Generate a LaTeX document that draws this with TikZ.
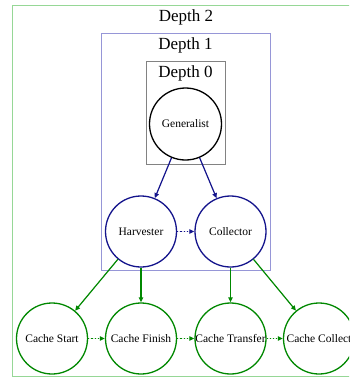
\documentclass[tikz,border=0pt]{standalone}
\usepackage{fontspec}
\setmainfont{Liberation Serif}
\usetikzlibrary{arrows.meta}
\definecolor{nblue}{RGB}{20,20,140}
\definecolor{ngreen}{RGB}{0,136,0}
\definecolor{cgreen}{RGB}{150,215,150}
\definecolor{cblue}{RGB}{150,150,215}
\definecolor{cgray}{RGB}{130,130,130}
\tikzset{
  nd/.style={circle, draw, line width=1.3pt, minimum size=71pt, inner sep=0pt, font=\fontsize{11.5}{13}\selectfont},
  bnode/.style={nd, draw=nblue},
  gnode/.style={nd, draw=ngreen},
  knode/.style={nd, draw=black, minimum size=72pt},
  clab/.style={font=\fontsize{17}{20}\selectfont, inner sep=0pt},
  tip/.style={-{Triangle[length=5pt,width=4.5pt]}},
  bedge/.style={tip, draw=nblue, fill=nblue, line width=1.2pt},
  gedge/.style={tip, draw=ngreen, fill=ngreen, line width=1.2pt},
  bdot/.style={bedge, dotted},
  gdot/.style={gedge, dotted},
}
\begin{document}
\begin{tikzpicture}[x=1pt,y=-1pt]
\useasboundingbox (0,0) rectangle (349,378);
\clip (0,0) rectangle (349,378);
\fill[white] (0,0) rectangle (349,378);
% clusters
\draw[cgreen, line width=1pt] (12.5,5.5) rectangle (400,376.8);
\node[clab] (l2) at (186,17) {Depth 2};
\draw[cblue, line width=1pt] (101.5,33.5) rectangle (270,270.5);
\node[clab] (l1) at (185.5,45) {Depth 1};
\draw[cgray, line width=1pt] (146.5,61) rectangle (225.5,164);
\node[clab] (l0) at (185.5,73) {Depth 0};
% nodes
\node[knode] (gen) at (185.5,124) {Generalist};
\node[bnode] (harv) at (141,231.5) {Harvester};
\node[bnode] (coll) at (230.5,231.5) {Collector};
\node[gnode] (cs) at (52,338.5) {Cache Start};
\node[gnode] (cf) at (141,338.5) {Cache Finish};
\node[gnode] (ct) at (230.5,338.5) {Cache Transfer};
\node[gnode] (cc) at (319,338.5) {Cache Collect};
% edges
\draw[bedge] (gen) -- (harv);
\draw[bedge] (gen) -- (coll);
\draw[bdot] (harv) -- (coll);
\draw[gedge] (harv) -- (cs);
\draw[gedge] (harv) -- (cf);
\draw[gedge] (coll) -- (ct);
\draw[gedge] (coll) -- (cc);
\draw[gdot] (cs) -- (cf);
\draw[gdot] (cf) -- (ct);
\draw[gdot] (ct) -- (cc);
\end{tikzpicture}
\end{document}
